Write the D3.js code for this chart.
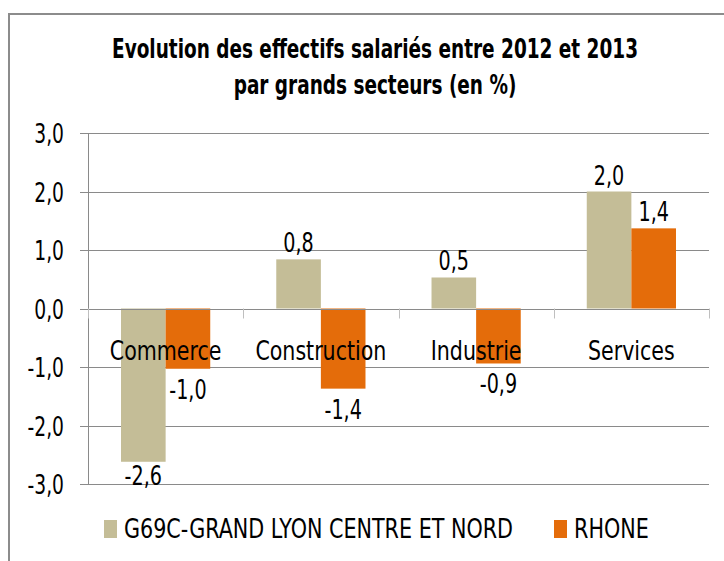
<!DOCTYPE html>
<html>
<head>
<meta charset="utf-8">
<script src="https://cdn.jsdelivr.net/npm/d3@7"></script>
<style>
  body { margin: 0; background: #fff; }
  text { font-family: 'DejaVu Sans Condensed', 'DejaVu Sans', sans-serif; fill: #000; }
</style>
</head>
<body>
<div id="chart"></div>
<script>
const categories = ['Commerce', 'Construction', 'Industrie', 'Services'];
const seriesNames = ['G69C-GRAND LYON CENTRE ET NORD', 'RHONE'];
const g69cValues = [-2.62, 0.84, 0.53, 2.0];
const rhoneValues = [-1.03, -1.37, -0.94, 1.37];
const yTicks = [-3, -2, -1, 0, 1, 2, 3];
const titleLines = ['Evolution des effectifs salariés entre 2012 et 2013', 'par grands secteurs (en %)'];
const colors = ['#C4BD97', '#E46C0A'];

const width = 724, height = 561;
const svg = d3.select('#chart').append('svg')
  .attr('width', width)
  .attr('height', height);

// the reference font is narrow (Calibri-like), so squeeze the text horizontally
function squeezed(parent, x, y, sx, anchor, size, str, bold) {
  return parent.append('text')
    .attr('transform', 'translate(' + x + ',' + y + ') scale(' + sx + ',1)')
    .attr('text-anchor', anchor)
    .attr('font-size', size + 'px')
    .attr('font-weight', bold ? 'bold' : 'normal')
    .text(str);
}
const fmt = v => d3.format('.1f')(v).replace('.', ',').replace('−', '-');

// outer frame
svg.append('rect')
  .attr('x', 9).attr('y', 14)
  .attr('width', 740).attr('height', 600)
  .attr('fill', 'none')
  .attr('stroke', '#8c8c8c')
  .attr('stroke-width', 2);

// title
squeezed(svg, 375, 58, 0.79, 'middle', 26, titleLines[0], true);
squeezed(svg, 375, 94, 0.79, 'middle', 26, titleLines[1], true);

const x0 = d3.scaleBand()
  .domain(categories)
  .range([88, 709])
  .paddingInner(0)
  .paddingOuter(0);

const x1 = d3.scaleBand()
  .domain(seriesNames)
  .range([0, x0.bandwidth()])
  .paddingOuter(0.74)
  .paddingInner(0);

const y = d3.scaleLinear()
  .domain([-3, 3])
  .range([484, 133]);

// horizontal gridlines with outer ticks
svg.append('g')
  .selectAll('line')
  .data(yTicks)
  .enter().append('line')
  .attr('x1', 80).attr('x2', 709)
  .attr('y1', d => Math.round(y(d)) + 0.5)
  .attr('y2', d => Math.round(y(d)) + 0.5)
  .attr('stroke', '#8a8a8a')
  .attr('stroke-width', 1);

// y axis line
svg.append('line')
  .attr('x1', 88.5).attr('x2', 88.5)
  .attr('y1', y(3)).attr('y2', y(-3))
  .attr('stroke', '#8a8a8a');

// y tick labels
const yLab = svg.append('g');
yTicks.forEach(d => squeezed(yLab, 64, y(d) + 10, 0.8, 'end', 26, fmt(d)));

const data = categories.map((c, i) => ({
  category: c,
  values: [
    { name: seriesNames[0], value: g69cValues[i] },
    { name: seriesNames[1], value: rhoneValues[i] }
  ]
}));

// bars
const groups = svg.append('g')
  .selectAll('g')
  .data(data)
  .enter().append('g')
  .attr('transform', d => 'translate(' + x0(d.category) + ',0)');

groups.selectAll('rect')
  .data(d => d.values)
  .enter().append('rect')
  .attr('x', d => x1(d.name))
  .attr('width', x1.bandwidth())
  .attr('y', d => y(Math.max(0, d.value)))
  .attr('height', d => Math.abs(y(d.value) - y(0)))
  .attr('fill', (d, i) => colors[i]);

// zero line and category ticks
svg.append('line')
  .attr('x1', 88).attr('x2', 709)
  .attr('y1', Math.round(y(0)) + 0.5).attr('y2', Math.round(y(0)) + 0.5)
  .attr('stroke', '#8a8a8a');

const tickX = categories.map(c => x0(c)).concat([x0.range()[1]]);
svg.append('g')
  .selectAll('line')
  .data(tickX)
  .enter().append('line')
  .attr('x1', d => Math.round(d) + 0.5)
  .attr('x2', d => Math.round(d) + 0.5)
  .attr('y1', y(0)).attr('y2', y(0) + 10)
  .attr('stroke', '#bfbfbf');

// category labels
const catLab = svg.append('g');
categories.forEach(c => squeezed(catLab, x0(c) + x0.bandwidth() / 2, y(0) + 51, 0.88, 'middle', 26, c));

// data labels
const valLab = svg.append('g');
data.forEach(d => {
  d.values.forEach(v => {
    const cx = x0(d.category) + x1(v.name) + x1.bandwidth() / 2;
    const ty = v.value >= 0 ? y(v.value) - 7 : Math.min(y(v.value) + 30, y(-3) + 1);
    squeezed(valLab, cx, ty, 0.82, 'middle', 26, fmt(v.value));
  });
});

// legend
const legend = svg.append('g');
const legendX = [104, 554];
legend.selectAll('rect')
  .data(seriesNames)
  .enter().append('rect')
  .attr('x', (d, i) => legendX[i])
  .attr('y', 520)
  .attr('width', 13).attr('height', 18)
  .attr('fill', (d, i) => colors[i]);
seriesNames.forEach((s, i) => squeezed(legend, legendX[i] + 20, 538, 0.885, 'start', 26, s));
</script>
</body>
</html>
